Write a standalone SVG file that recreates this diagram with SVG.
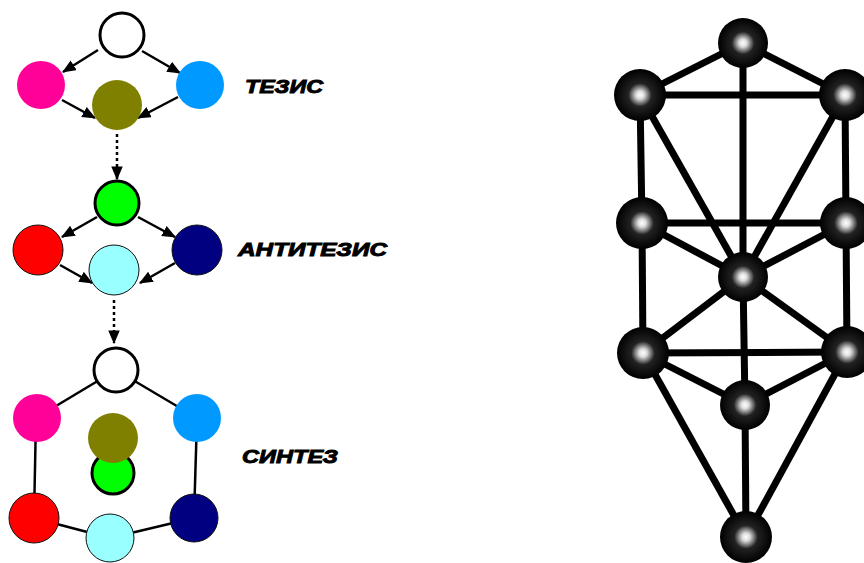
<svg xmlns="http://www.w3.org/2000/svg" width="864" height="563" viewBox="0 0 864 563">
<style>
.edge{stroke:#000;stroke-width:2.5;fill:none}
.arr{marker-end:url(#ah)}
.dot{stroke-dasharray:3 3}
.thick{stroke:#000;stroke-width:3}
.thin{stroke:#111;stroke-width:1}
.lbl{font-family:"Liberation Sans",Arial,sans-serif;font-weight:bold;font-style:italic;font-size:18px;fill:#000;stroke:#000;stroke-width:0.9}
.tree{stroke:#000;stroke-width:7;fill:none}
.sph{fill:url(#sg)}
</style>
<defs>
<marker id="ah" viewBox="0 0 12 10" refX="11" refY="5" markerWidth="5.5" markerHeight="4.6" orient="auto" markerUnits="strokeWidth">
<path d="M0,0 L12,5 L0,10 z" fill="#000"/>
</marker>
<radialGradient id="sg" cx="0.5" cy="0.5" r="0.5">
<stop offset="0" stop-color="#fff"/>
<stop offset="0.15" stop-color="#ddd"/>
<stop offset="0.45" stop-color="#222"/>
<stop offset="1" stop-color="#000"/>
</radialGradient>
</defs>
<g id="connectors">
<line class="edge arr" x1="98" y1="50" x2="63" y2="72"/>
<line class="edge arr" x1="142" y1="51" x2="180" y2="73"/>
<line class="edge arr" x1="62" y1="100" x2="95" y2="118"/>
<line class="edge arr" x1="178" y1="97" x2="138" y2="118"/>
<line class="edge arr dot" x1="117" y1="134" x2="117" y2="179"/>
<line class="edge arr" x1="97" y1="217" x2="62" y2="237"/>
<line class="edge arr" x1="138" y1="217" x2="175" y2="237"/>
<line class="edge arr" x1="60" y1="265" x2="92" y2="283"/>
<line class="edge arr" x1="175" y1="263" x2="140" y2="283"/>
<line class="edge arr dot" x1="114" y1="300" x2="114" y2="343"/>
<line class="edge" x1="116" y1="370" x2="36" y2="418"/>
<line class="edge" x1="116" y1="370" x2="197" y2="418"/>
<line class="edge" x1="36" y1="418" x2="34" y2="518"/>
<line class="edge" x1="197" y1="418" x2="194" y2="518"/>
<line class="edge" x1="34" y1="518" x2="110" y2="538"/>
<line class="edge" x1="194" y1="518" x2="110" y2="538"/>
<g id="tree-edges">
<line class="tree" x1="743" y1="43" x2="640" y2="95"/>
<line class="tree" x1="743" y1="43" x2="845" y2="95"/>
<line class="tree" x1="640" y1="95" x2="845" y2="95"/>
<line class="tree" x1="743" y1="43" x2="743" y2="277"/>
<line class="tree" x1="640" y1="95" x2="642" y2="223"/>
<line class="tree" x1="845" y1="95" x2="846" y2="223"/>
<line class="tree" x1="640" y1="95" x2="743" y2="277"/>
<line class="tree" x1="845" y1="95" x2="743" y2="277"/>
<line class="tree" x1="642" y1="223" x2="846" y2="223"/>
<line class="tree" x1="642" y1="223" x2="743" y2="277"/>
<line class="tree" x1="846" y1="223" x2="743" y2="277"/>
<line class="tree" x1="642" y1="223" x2="643" y2="353"/>
<line class="tree" x1="846" y1="223" x2="847" y2="352"/>
<line class="tree" x1="743" y1="277" x2="643" y2="353"/>
<line class="tree" x1="743" y1="277" x2="847" y2="352"/>
<line class="tree" x1="643" y1="353" x2="847" y2="352"/>
<line class="tree" x1="743" y1="277" x2="745" y2="405"/>
<line class="tree" x1="643" y1="353" x2="745" y2="405"/>
<line class="tree" x1="847" y1="352" x2="745" y2="405"/>
<line class="tree" x1="643" y1="353" x2="746" y2="537"/>
<line class="tree" x1="847" y1="352" x2="746" y2="537"/>
<line class="tree" x1="745" y1="405" x2="746" y2="537"/>
</g>
</g>
<g id="thesis-white"><circle cx="122" cy="35" r="22" fill="#fff" class="thick"/></g>
<g id="thesis-magenta"><circle cx="41" cy="85" r="24" fill="#ff0099"/></g>
<g id="thesis-blue"><circle cx="200" cy="85" r="24" fill="#0099ff"/></g>
<g id="thesis-olive"><circle cx="117" cy="105" r="25" fill="#808000"/></g>
<g id="antithesis-green"><circle cx="117" cy="203" r="22" fill="#00ff00" class="thick"/></g>
<g id="antithesis-red"><circle cx="38" cy="250" r="25" fill="#ff0000" class="thin"/></g>
<g id="antithesis-navy"><circle cx="197" cy="250" r="25" fill="#000080" class="thin"/></g>
<g id="antithesis-cyan"><circle cx="114" cy="270" r="25" fill="#99ffff" class="thin"/></g>
<g id="synthesis-white"><circle cx="116" cy="370" r="22" fill="#fff" class="thick"/></g>
<g id="synthesis-magenta"><circle cx="37" cy="418" r="24" fill="#ff0099"/></g>
<g id="synthesis-blue"><circle cx="197" cy="418" r="24" fill="#0099ff"/></g>
<g id="synthesis-green"><circle cx="113" cy="473" r="21" fill="#00ff00" class="thick"/></g>
<g id="synthesis-olive"><circle cx="113" cy="438" r="25" fill="#808000"/></g>
<g id="synthesis-red"><circle cx="34" cy="518" r="25" fill="#ff0000" class="thin"/></g>
<g id="synthesis-navy"><circle cx="194" cy="518" r="24" fill="#000080" class="thin"/></g>
<g id="synthesis-cyan"><circle cx="110" cy="538" r="24" fill="#99ffff" class="thin"/></g>
<g id="label-thesis"><text class="lbl" x="245" y="93" textLength="78" lengthAdjust="spacingAndGlyphs">ТЕЗИС</text></g>
<g id="label-antithesis"><text class="lbl" x="238" y="256" textLength="149" lengthAdjust="spacingAndGlyphs">АНТИТЕЗИС</text></g>
<g id="label-synthesis"><text class="lbl" x="242" y="463" textLength="96" lengthAdjust="spacingAndGlyphs">СИНТЕЗ</text></g>
<g id="tree-top"><circle class="sph" cx="743" cy="43" r="25"/></g>
<g id="tree-ul"><circle class="sph" cx="640" cy="95" r="26"/></g>
<g id="tree-ur"><circle class="sph" cx="845" cy="95" r="26"/></g>
<g id="tree-ml"><circle class="sph" cx="642" cy="223" r="26"/></g>
<g id="tree-mr"><circle class="sph" cx="846" cy="223" r="26"/></g>
<g id="tree-center"><circle class="sph" cx="743" cy="277" r="25"/></g>
<g id="tree-ll"><circle class="sph" cx="643" cy="353" r="26"/></g>
<g id="tree-lr"><circle class="sph" cx="847" cy="352" r="26"/></g>
<g id="tree-lc"><circle class="sph" cx="745" cy="405" r="25"/></g>
<g id="tree-bottom"><circle class="sph" cx="746" cy="537" r="26"/></g>
</svg>
